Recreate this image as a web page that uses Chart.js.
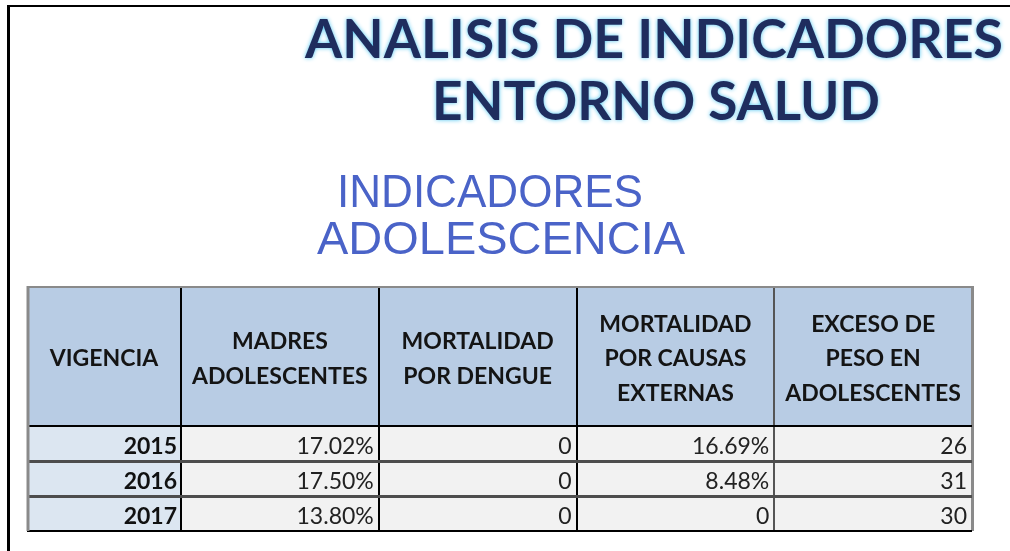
<!DOCTYPE html>
<html lang="es">
<head>
  <meta charset="UTF-8" />
  <title>Analisis de indicadores - Entorno salud</title>
  <script src="https://cdn.jsdelivr.net/npm/chart.js"></script>
  <style>
    body {
      margin: 0;
      background: #fff;
      overflow: hidden;
    }
    .frame {
      position: absolute;
      left: 7px;
      top: 5px;
      width: 1100px;
      height: 700px;
      border-left: 3px solid #000;
      border-top: 2px solid #000;
    }
    #tabla {
      position: absolute;
      left: 0;
      top: 0;
    }
  </style>
</head>
<body>
  <div class="frame"></div>
  <canvas id="tabla" width="1010" height="551"></canvas>

  <script>
    const title = ["ANALISIS DE INDICADORES", "ENTORNO SALUD"];
    const subtitle = ["INDICADORES", "ADOLESCENCIA"];

    const cornerHeader = "VIGENCIA";
    const years = ["2015", "2016", "2017"];
    const columnHeaders = [
      ["MADRES", "ADOLESCENTES"],
      ["MORTALIDAD", "POR DENGUE"],
      ["MORTALIDAD", "POR CAUSAS", "EXTERNAS"],
      ["EXCESO DE", "PESO EN", "ADOLESCENTES"]
    ];
    const madresAdolescentes = [17.02, 17.50, 13.80];   // %
    const mortalidadDengue = [0, 0, 0];
    const mortalidadExternas = [16.69, 8.48, 0];         // %
    const excesoPeso = [26, 31, 30];
    const isPercent = [true, false, true, false];

    const columns = [madresAdolescentes, mortalidadDengue, mortalidadExternas, excesoPeso];

    function fmt(col, v) {
      if (isPercent[col] && v !== 0) return v.toFixed(2) + "%";
      return String(v);
    }

    // texto estirado/comprimido a un ancho dado
    function fitText(ctx, text, cx, base, width) {
      const w = ctx.measureText(text).width;
      ctx.save();
      ctx.translate(cx, base);
      ctx.scale(width / w, 1);
      ctx.textAlign = "center";
      ctx.textBaseline = "alphabetic";
      ctx.fillText(text, 0, 0);
      ctx.restore();
    }

    const tablePlugin = {
      id: "tabla",
      beforeDraw(chart) {
        const { ctx, chartArea: a, scales: { x, y } } = chart;
        ctx.save();
        ctx.fillStyle = "#B8CCE4";
        ctx.fillRect(y.left, x.top, x.right - y.left, x.bottom - x.top);
        ctx.fillStyle = "#DCE6F1";
        ctx.fillRect(y.left, a.top, y.right - y.left, a.bottom - a.top);
        ctx.fillStyle = "#F2F2F2";
        ctx.fillRect(a.left, a.top, a.right - a.left, a.bottom - a.top);
        ctx.restore();
      },
      afterDraw(chart) {
        const { ctx, chartArea: a, scales: { x, y } } = chart;
        ctx.save();

        // bordes exteriores de la tabla
        ctx.strokeStyle = "#8a8a8a";
        ctx.lineWidth = 3;
        ctx.beginPath();
        ctx.moveTo(y.left + 1, x.top);
        ctx.lineTo(y.left + 1, a.bottom);
        ctx.stroke();
        ctx.lineWidth = 2;
        ctx.beginPath();
        ctx.moveTo(y.left, x.top + 1);
        ctx.lineTo(x.right + 1, x.top + 1);
        ctx.stroke();

        // encabezados
        ctx.fillStyle = "#141414";
        ctx.font = "bold 23px Lato";
        ctx.textAlign = "center";
        ctx.textBaseline = "middle";
        const cy = (x.top + x.bottom) / 2 + 3;
        const lineH = 34.5;
        columnHeaders.forEach((lines, i) => {
          const cx = x.getPixelForTick(i);
          const y0 = cy - (lines.length - 1) * lineH / 2;
          lines.forEach((t, k) => ctx.fillText(t, cx, y0 + k * lineH));
        });
        ctx.fillText(cornerHeader, (y.left + y.right) / 2, cy);

        // valores
        ctx.font = "23px Lato";
        ctx.fillStyle = "#222";
        ctx.textAlign = "right";
        chart.data.datasets.forEach((ds, c) => {
          const right = x.getPixelForValue(c + 0.5) - 5;
          chart.getDatasetMeta(c).data.forEach((pt, r) => {
            ctx.fillText(fmt(c, ds.data[r].v), right, pt.y + 3);
          });
        });

        // titulos
        ctx.fillStyle = "#1F2D5E";
        ctx.shadowColor = "rgba(70, 195, 240, 0.95)";
        ctx.shadowBlur = 4;
        ctx.font = "bold 54px Lato";
        fitText(ctx, title[0], 654, 58, 698);
        fitText(ctx, title[1], 656, 120, 448);
        ctx.shadowBlur = 0;
        ctx.shadowColor = "transparent";

        ctx.fillStyle = "#4A63C8";
        ctx.font = "47px 'Liberation Sans'";
        fitText(ctx, subtitle[0], 490, 207, 306);
        fitText(ctx, subtitle[1], 501, 254, 368);

        ctx.restore();
      }
    };

    function draw() {
      new Chart(document.getElementById("tabla"), {
        type: "line",
        data: {
          datasets: columns.map((vals, c) => ({
            data: vals.map((v, r) => ({ x: c, y: r, v: v })),
            showLine: false,
            pointRadius: 0,
            pointHoverRadius: 0
          }))
        },
        options: {
          responsive: false,
          animation: false,
          events: [],
          layout: { padding: { left: 27, top: 286, right: 38, bottom: 20 } },
          plugins: {
            legend: { display: false },
            tooltip: { enabled: false }
          },
          scales: {
            x: {
              type: "category",
              position: "top",
              labels: columnHeaders,
              offset: true,
              grid: {
                offset: true,
                tickLength: 140,
                color: c => c.index == null ? "#8a8a8a" : (c.index === 3 ? "#555" : "#000"),
                lineWidth: c => c.index == null ? 3 : 2
              },
              border: { display: false },
              ticks: { display: false },
              afterFit: s => { s.height = 140; }
            },
            y: {
              type: "category",
              labels: years,
              offset: true,
              grid: {
                offset: true,
                tickLength: 154,
                color: c => (c.index === 1 || c.index === 2) ? "#4d4d4d" : "#000",
                lineWidth: c => (c.index === 1 || c.index === 2) ? 3 : 2
              },
              border: { display: false },
              ticks: {
                padding: -150,
                labelOffset: 3,
                color: "#111",
                font: { family: "Lato", weight: "bold", size: 23 }
              },
              afterFit: s => { s.width = 154; }
            }
          }
        },
        plugins: [tablePlugin]
      });
    }

    Promise.all([
      document.fonts.load("bold 23px Lato"),
      document.fonts.load("23px Lato"),
      document.fonts.load("47px 'Liberation Sans'")
    ]).then(draw, draw);
  </script>
</body>
</html>
